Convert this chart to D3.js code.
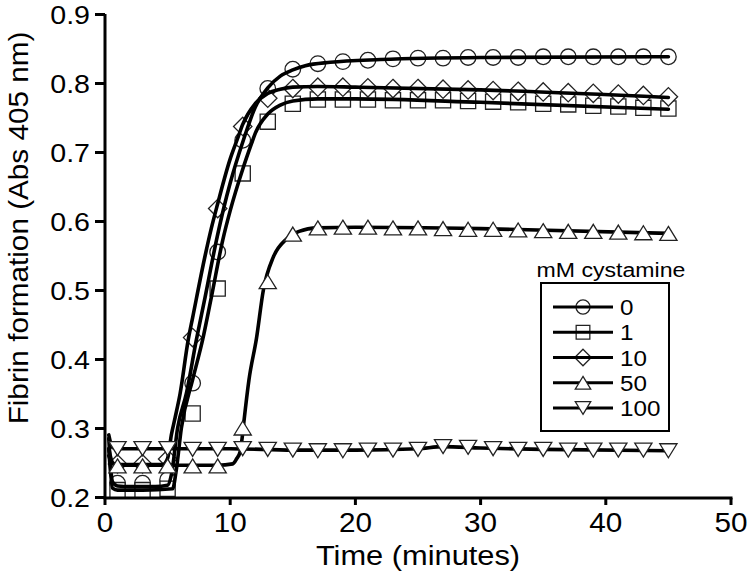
<!DOCTYPE html>
<html>
<head>
<meta charset="utf-8">
<script src="https://cdn.jsdelivr.net/npm/d3@7"></script>
<style>
  html, body { margin: 0; padding: 0; background: #fff; }
  text { font-family: "Liberation Sans", Arial, Helvetica, sans-serif; fill: #000; }
</style>
</head>
<body>
<script>
// ---------- DATA ----------
const seriesNames = ["0", "1", "10", "50", "100"];
const markerTypes = ["circle", "square", "diamond", "up", "down"];
const times = [1,3,5,7,9,11,13,15,17,19,21,23,25,27,29,31,33,35,37,39,41,43,45];

const vals0   = [0.220,0.220,0.225,0.365,0.555,0.717,0.792,0.820,0.828,0.831,0.833,0.835,0.836,0.836,0.837,0.837,0.837,0.838,0.838,0.838,0.838,0.838,0.838];
const vals1   = [0.210,0.210,0.212,0.321,0.502,0.669,0.744,0.770,0.776,0.776,0.776,0.775,0.775,0.775,0.774,0.773,0.772,0.770,0.769,0.767,0.766,0.764,0.763];
const vals10  = [0.248,0.248,0.255,0.431,0.618,0.737,0.778,0.792,0.794,0.794,0.793,0.792,0.792,0.791,0.790,0.789,0.788,0.787,0.786,0.785,0.784,0.782,0.780];
const vals50  = [0.245,0.245,0.245,0.245,0.245,0.300,0.512,0.581,0.590,0.591,0.591,0.590,0.590,0.589,0.588,0.588,0.587,0.586,0.585,0.585,0.584,0.583,0.582];
const vals100 = [0.270,0.270,0.270,0.269,0.269,0.270,0.269,0.268,0.267,0.267,0.268,0.268,0.269,0.273,0.272,0.270,0.269,0.269,0.268,0.268,0.268,0.268,0.267];

// fitted curves [time, value]
const fit0 = [[0.3,0.285],[0.6,0.222],[1,0.216],[2,0.215],[4,0.215],[5.0,0.217],[5.3,0.232],[5.8,0.3],[6.5,0.35],[7.3,0.428],[8,0.49],[8.9,0.572],[9.5,0.62],[10,0.655],[11.05,0.717],[12,0.765],[13,0.793],[14,0.81],[15,0.819],[16,0.825],[18,0.83],[22,0.834],[30,0.837],[45,0.838]];
const fit1 = [[0.3,0.27],[0.6,0.213],[1,0.21],[3,0.21],[5.4,0.212],[5.7,0.24],[6.1,0.3],[7,0.37],[7.8,0.428],[8.5,0.49],[9.4,0.572],[10,0.615],[11,0.675],[11.7,0.712],[12,0.727],[13,0.755],[14,0.768],[15,0.774],[17,0.777],[20,0.777],[30,0.772],[45,0.762]];
const fit10 = [[0.3,0.26],[0.6,0.248],[1,0.247],[4.6,0.247],[5.0,0.256],[5.3,0.29],[5.6,0.315],[6,0.35],[6.65,0.428],[7,0.46],[8,0.55],[8.5,0.59],[9,0.625],[10,0.69],[10.6,0.72],[11,0.74],[12,0.77],[13,0.785],[14,0.791],[15,0.794],[17,0.795],[20,0.794],[30,0.79],[45,0.779]];
const fit50 = [[0.3,0.27],[0.6,0.25],[1,0.246],[5,0.246],[9,0.246],[10.2,0.248],[10.5,0.255],[10.8,0.266],[10.95,0.285],[11.1,0.31],[11.5,0.37],[12.1,0.43],[12.65,0.5],[13.45,0.548],[14.5,0.574],[15.5,0.585],[17,0.59],[20,0.591],[30,0.589],[45,0.582]];
const fit100 = [[0.3,0.29],[0.6,0.272],[1,0.27],[10,0.27],[15,0.268],[20,0.268],[25,0.27],[27,0.273],[30,0.271],[35,0.269],[45,0.267]];

const xTicks = [0,10,20,30,40,50];
const yTicks = [0.2,0.3,0.4,0.5,0.6,0.7,0.8,0.9];
const legendTitle = "mM cystamine";
const xTitle = "Time (minutes)";
const yTitle = "Fibrin formation (Abs 405 nm)";

const allVals = [vals0, vals1, vals10, vals50, vals100];
const allFits = [fit0, fit1, fit10, fit50, fit100];

// ---------- LAYOUT ----------
const W = 750, H = 575;
const x = d3.scaleLinear().domain([0, 50]).range([105, 731]);
const y = d3.scaleLinear().domain([0.2, 0.9]).range([497, 14]);
const SX = 1.1; // horizontal text stretch

const svg = d3.select("body").append("svg").attr("width", W).attr("height", H);

function markerPath(type) {
  const r = 7.8, h = 7.6, d = 9.2, tw = 8.6, th = 7;
  switch (type) {
    case "circle": return `M${r},0A${r},${r} 0 1,1 ${-r},0A${r},${r} 0 1,1 ${r},0Z`;
    case "square": return `M${-h},${-h}H${h}V${h}H${-h}Z`;
    case "diamond": return `M0,${-d}L${d},0L0,${d}L${-d},0Z`;
    case "up": return `M0,${-th}L${tw},${th}L${-tw},${th}Z`;
    case "down": return `M0,${th}L${tw},${-th}L${-tw},${-th}Z`;
  }
}
const isTri = t => t === "up" || t === "down";

const line = d3.line().x(d => x(d[0])).y(d => y(d[1])).curve(d3.curveMonotoneX);

// markers under lines (circle, square, diamond)
function drawMarkers(i) {
  svg.append("g").selectAll("path").data(times.map((t, k) => [t, allVals[i][k]]))
    .join("path")
    .attr("d", markerPath(markerTypes[i]))
    .attr("transform", d => `translate(${x(d[0])},${y(d[1])})`)
    .attr("fill", "#fff").attr("stroke", "#222").attr("stroke-width", 1.3);
}
[0, 1, 2].forEach(drawMarkers);

// lines
allFits.forEach(f => {
  svg.append("path").datum(f).attr("d", line)
    .attr("fill", "none").attr("stroke", "#000").attr("stroke-width", 3.6)
    .attr("stroke-linejoin", "round").attr("stroke-linecap", "round");
});

// triangles above lines
[3, 4].forEach(drawMarkers);

// ---------- AXES ----------
const yAxis = d3.axisLeft(y).tickValues(yTicks).tickFormat(d3.format(".1f")).tickSize(10).tickSizeOuter(0);
const gy = svg.append("g").attr("transform", `translate(${x(0)},0)`).call(yAxis);
gy.select(".domain").attr("stroke-width", 3).attr("d", `M0,${y(0.9)}V${y(0.2) + 1.5}`);
gy.selectAll(".tick line").attr("stroke-width", 3);
gy.selectAll(".tick text").attr("font-size", 26).attr("x", -15 / SX).attr("dy", "0.36em")
  .attr("transform", `scale(${SX},1)`).attr("font-family", null);

const xAxis = d3.axisBottom(x).tickValues(xTicks).tickSize(7).tickSizeOuter(0);
const gx = svg.append("g").attr("transform", `translate(0,${y(0.2) + 1})`).call(xAxis);
gx.select(".domain").attr("stroke-width", 3).attr("d", `M${x(0) - 1.5},0H${x(50) + 1.5}`);
gx.selectAll(".tick line").attr("stroke-width", 3);
gx.selectAll(".tick text").attr("font-size", 27).attr("y", 34).attr("dy", 0)
  .attr("transform", `scale(${SX},1)`).attr("font-family", null);
gx.selectAll(".tick").each(function(d) {
  d3.select(this).attr("transform", `translate(${x(d)},0)`);
});

// axis titles
svg.append("text").attr("transform", `translate(${x(25)},565) scale(${SX},1)`)
  .attr("text-anchor", "middle").attr("font-size", 28).text(xTitle);
svg.append("text").attr("transform", `translate(28,228) rotate(-90) scale(${SX},1)`)
  .attr("text-anchor", "middle").attr("font-size", 27).text(yTitle);

// ---------- LEGEND ----------
const lg = svg.append("g");
lg.append("text").attr("transform", `translate(611,277) scale(${SX},1)`)
  .attr("text-anchor", "middle").attr("font-size", 21).text(legendTitle);
lg.append("rect").attr("x", 541).attr("y", 283).attr("width", 128).attr("height", 148)
  .attr("fill", "#fff").attr("stroke", "#000").attr("stroke-width", 2);
const rowY = d3.scalePoint().domain(seriesNames).range([307, 408]);
seriesNames.forEach((n, i) => {
  const cy = rowY(n);
  const t = markerTypes[i];
  const mk = () => lg.append("path").attr("d", markerPath(t)).attr("transform", `translate(583,${cy}) scale(0.9)`)
    .attr("fill", "#fff").attr("stroke", "#222").attr("stroke-width", 1.4);
  if (!isTri(t)) mk();
  lg.append("line").attr("x1", 553).attr("x2", 613).attr("y1", cy).attr("y2", cy)
    .attr("stroke", "#000").attr("stroke-width", 3);
  if (isTri(t)) mk();
  lg.append("text").attr("transform", `translate(620,${cy + 8}) scale(${SX},1)`)
    .attr("font-size", 22).text(n);
});
</script>
</body>
</html>
